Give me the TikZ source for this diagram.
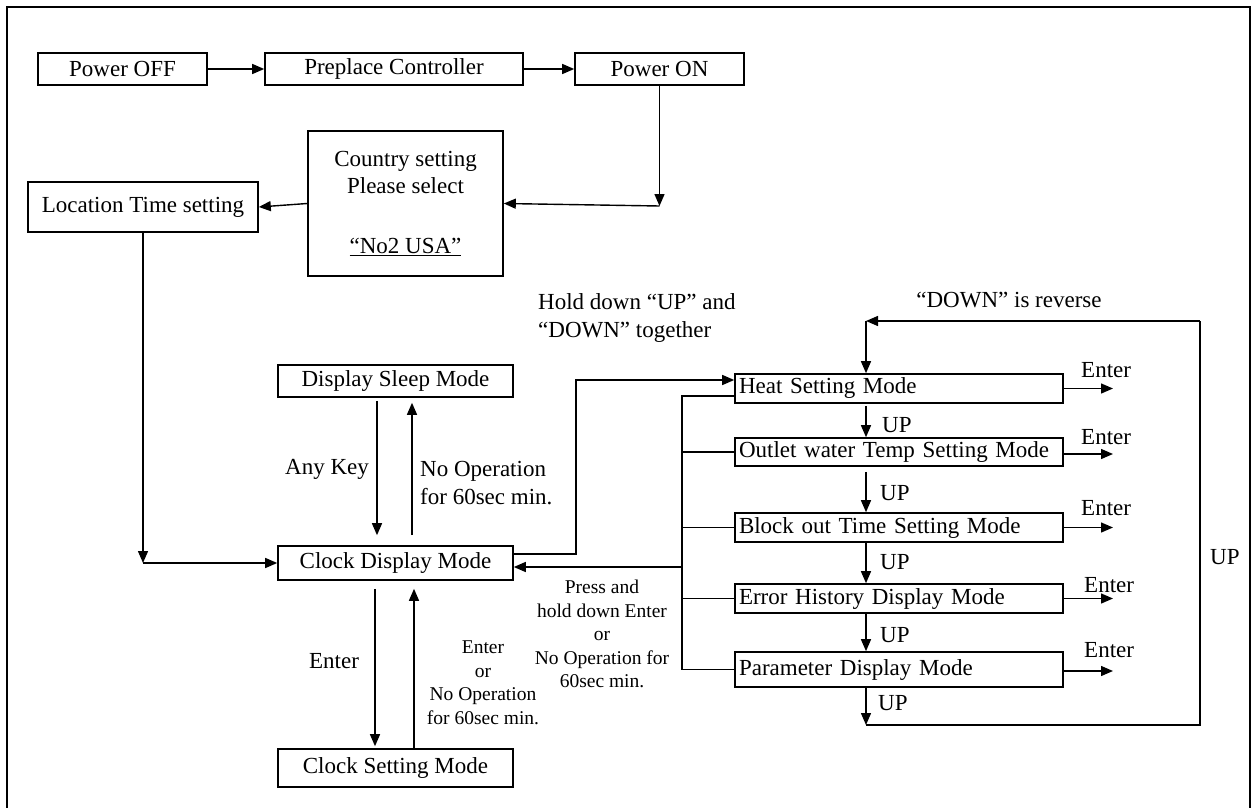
\documentclass[tikz,border=0pt]{standalone}
\usepackage{fontspec}
\setmainfont{Liberation Serif}
\usetikzlibrary{arrows.meta}
\newcommand\bigf{\fontsize{23}{28}\selectfont}
\newcommand\smallf{\fontsize{19.5}{23.5}\selectfont}
\begin{document}
\begin{tikzpicture}[x=1pt,y=-1pt,
  box/.style={draw, line width=1.6pt, inner sep=0pt, font=\bigf},
  rbox/.style={box, minimum width=328pt, text width=320pt, align=left},
  arr/.style={line width=1.4pt, -{Triangle[length=12pt,width=10pt]}},
  ln/.style={line width=1.4pt},
  lab/.style={font=\bigf, inner sep=0pt},
  slab/.style={font=\smallf, inner sep=0pt, align=center}]
\useasboundingbox (0,0) rectangle (1254,808);
% frame
\draw[line width=2.2pt] (7,815) -- (7,7) -- (1250,7) -- (1250,815);

% top row
\node[box, minimum width=169pt, minimum height=32pt] (poff) at (122.5,69) {Power OFF};
\node[box, minimum width=258pt, minimum height=32pt] (prep) at (394,69) {Preplace Controller};
\node[box, minimum width=169pt, minimum height=32pt] (pon) at (659.5,69) {Power ON};

\node[box, minimum width=195pt, minimum height=145pt, align=center] (country) at (405.5,203.5)
  {Country setting\\[-1pt]Please select\\[32pt]\underline{“No2 USA”}};
\node[box, minimum width=230pt, minimum height=50pt] (loc) at (143,207) {Location Time setting};

\node[box, minimum width=235pt, minimum height=32pt] (sleep) at (395.5,381) {Display Sleep Mode};
\node[box, minimum width=235pt, minimum height=34pt] (clockd) at (395.5,563) {Clock Display Mode};
\node[box, minimum width=235pt, minimum height=38pt] (clocks) at (395.5,768) {Clock Setting Mode};

\node[rbox, minimum height=29pt] (heat) at (899,388.5) {Heat Setting Mode};
\node[rbox, minimum height=28pt] (outlet) at (899,452) {Outlet water Temp Setting Mode};
\node[rbox, minimum height=29pt] (block) at (899,527.5) {Block out Time Setting Mode};
\node[rbox, minimum height=29pt] (error) at (899,598.5) {Error History Display Mode};
\node[rbox, minimum height=35pt] (param) at (899,669.5) {Parameter Display Mode};

% labels
\node[lab, anchor=west, align=left] (hold) at (538,318) {Hold down “UP” and\\“DOWN” together};
\node[lab] (rev) at (1009,300) {“DOWN” is reverse};
\node[lab, anchor=west] (anykey) at (285,469) {Any Key};
\node[lab, anchor=west, align=left] (noop1) at (420,483) {No Operation\\for 60sec min.};
\node[lab] (enterc) at (334,661) {Enter};
\node[slab] (noop2) at (483,682.5) {Enter\\or\\No Operation\\for 60sec min.};
\node[slab] (press) at (602,634) {Press and\\hold down Enter\\or\\No Operation for\\60sec min.};
\node[lab, anchor=west] (up1) at (882,425) {UP};
\node[lab, anchor=west] (up2) at (880,493) {UP};
\node[lab, anchor=west] (up3) at (880,562) {UP};
\node[lab, anchor=west] (up4) at (880,635) {UP};
\node[lab, anchor=west] (up5) at (878,703) {UP};
\node[lab, anchor=west] (upr) at (1210,557) {UP};
\node[lab, anchor=west] (en1) at (1081,370) {Enter};
\node[lab, anchor=west] (en2) at (1081,437) {Enter};
\node[lab, anchor=west] (en3) at (1081,508) {Enter};
\node[lab, anchor=west] (en4) at (1084,585) {Enter};
\node[lab, anchor=west] (en5) at (1084,650) {Enter};

% helper coordinates
\coordinate (c1) at (659.5,206);
\coordinate (c2) at (143,563);
\coordinate (xk) at (377,0);
\coordinate (xn) at (412,0);
\coordinate (xe) at (375,0);
\coordinate (xo) at (414,0);
\coordinate (bx) at (682,0);
\coordinate (ux) at (866,0);
\coordinate (ex) at (1113,0);
\coordinate (lb) at (866,725);
\coordinate (rb) at (1200,725);
\coordinate (rt) at (1200,321);
\coordinate (lt) at (866,321);

% connectors
\draw[arr] (poff) -- (prep);
\draw[arr] (prep) -- (pon);
\draw[arr] (pon.south) -- (c1);
\draw[arr] (c1) -- (country.east);
\draw[arr] (country.west) -- (loc.east);
\draw[arr] (loc.south) -- (c2);
\draw[arr] (c2) -- (clockd.west);

\draw[arr, shorten <=3pt, shorten >=10pt] (sleep.south -| xk) -- (clockd.north -| xk);
\draw[arr, shorten <=10pt, shorten >=5pt] (clockd.north -| xn) -- (sleep.south -| xn);
\draw[arr, shorten <=8pt, shorten >=2pt] (clockd.south -| xe) -- (clocks.north -| xe);
\draw[arr, shorten >=8pt] (clocks.north -| xo) -- (clockd.south -| xo);

\draw[arr] ([yshift=9pt]clockd.east) -- ++(62,0) |- ([yshift=8.5pt]heat.west);
\draw[ln] ([yshift=-7.5pt]heat.west) -| (param.west -| bx) -- (param.west);
\draw[ln] (outlet.west -| bx) -- (outlet.west);
\draw[ln] (block.west -| bx) -- (block.west);
\draw[ln] (error.west -| bx) -- (error.west);
\draw[arr] ([yshift=-4pt]clockd.east -| bx) -- ([yshift=-4pt]clockd.east);

\draw[arr, shorten <=2pt] (heat.south -| ux) -- (outlet.north -| ux);
\draw[arr, shorten <=5pt] (outlet.south -| ux) -- (block.north -| ux);
\draw[arr] (block.south -| ux) -- (error.north -| ux);
\draw[arr] (error.south -| ux) -- (param.north -| ux);
\draw[arr] (param.south -| ux) -- (lb);
\draw[ln] (lb) -- (rb) -- (rt);
\draw[arr] (rt) -- (lt);
\draw[arr] (lt) -- (heat.north -| ux);

\coordinate (e1) at (heat.east -| ex);
\coordinate (e2) at ([yshift=-2pt]outlet.east -| ex);
\coordinate (e3) at (block.east -| ex);
\coordinate (e4) at (error.east -| ex);
\coordinate (e5) at ([yshift=-1.5pt]param.east -| ex);
\draw[arr] (heat.east) -- (e1);
\draw[arr] ([yshift=-2pt]outlet.east) -- (e2);
\draw[arr] (block.east) -- (e3);
\draw[arr] (error.east) -- (e4);
\draw[arr] ([yshift=-1.5pt]param.east) -- (e5);
\end{tikzpicture}
\end{document}
